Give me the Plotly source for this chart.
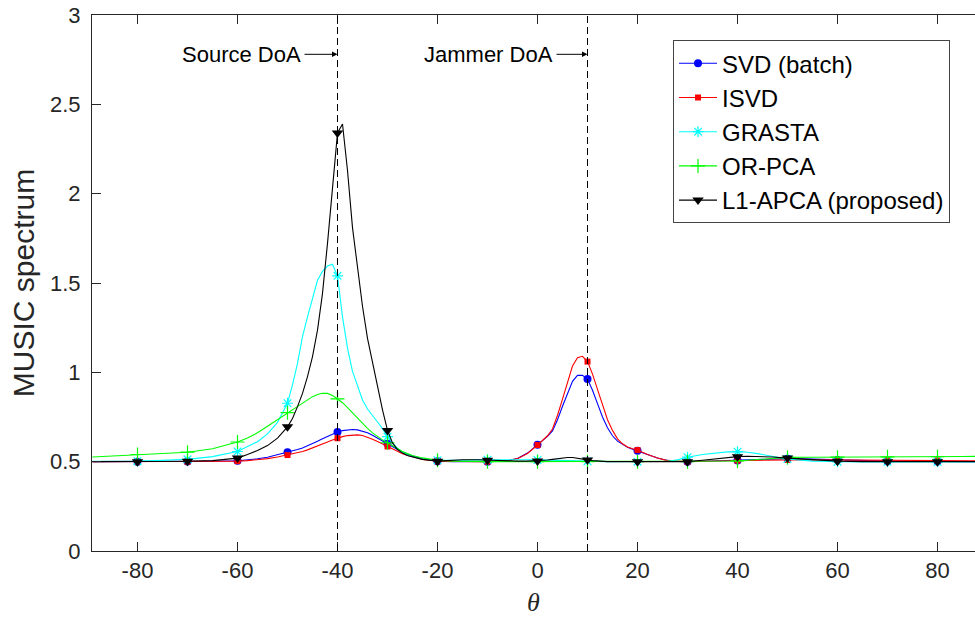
import plotly.graph_objects as go

# Angle grid (degrees); denser where the spectra peak
theta = [
    -89, -85, -80, -75, -70, -65, -60,
    -58, -56, -54, -52,
    -50, -49, -48, -47, -46, -45, -44, -43, -42, -41,
    -40, -39, -38, -37, -36, -35, -34, -33, -32, -31,
    -30, -29, -28, -27, -26, -25,
    -23, -20, -17, -15, -12, -10, -8, -6, -4, -2,
    0, 1, 2, 3, 4, 5, 6, 7, 8, 9,
    10, 11, 12, 13, 14, 15, 16, 17, 18, 19,
    20, 22, 24, 26, 28, 30,
    33, 36, 38, 40, 42, 44, 47, 50,
    55, 60, 65, 70, 75, 80, 85, 89,
]

svd_batch = [
    0.500, 0.500, 0.500, 0.500, 0.501, 0.502, 0.505,
    0.510, 0.516, 0.525, 0.538,
    0.553, 0.560, 0.568, 0.577, 0.588, 0.600, 0.614, 0.628, 0.641, 0.654,
    0.666, 0.674, 0.678, 0.680, 0.678, 0.672, 0.662, 0.648, 0.632, 0.617,
    0.600, 0.583, 0.567, 0.553, 0.541, 0.531,
    0.516, 0.503, 0.500, 0.500, 0.500, 0.500, 0.501, 0.505, 0.518, 0.548,
    0.595, 0.617, 0.642, 0.672, 0.735, 0.810, 0.885, 0.950, 0.983, 0.983,
    0.962, 0.900, 0.825, 0.750, 0.690, 0.645, 0.615, 0.595, 0.580, 0.570,
    0.561, 0.540, 0.520, 0.507, 0.502, 0.500,
    0.502, 0.505, 0.506, 0.507, 0.509, 0.511, 0.514, 0.517,
    0.515, 0.510, 0.506, 0.503, 0.502, 0.501, 0.500, 0.500,
]

isvd = [
    0.500, 0.500, 0.500, 0.500, 0.500, 0.501, 0.503,
    0.506, 0.511, 0.517, 0.526,
    0.537, 0.543, 0.550, 0.557, 0.566, 0.576, 0.587, 0.598, 0.610, 0.621,
    0.631, 0.640, 0.646, 0.650, 0.650, 0.646, 0.638, 0.626, 0.613, 0.599,
    0.585, 0.570, 0.556, 0.544, 0.534, 0.526,
    0.513, 0.502, 0.500, 0.500, 0.500, 0.500, 0.501, 0.505, 0.517, 0.546,
    0.593, 0.618, 0.645, 0.683, 0.760, 0.850, 0.950, 1.035, 1.082, 1.090,
    1.060, 0.990, 0.905, 0.815, 0.735, 0.675, 0.628, 0.600, 0.582, 0.572,
    0.565, 0.540, 0.520, 0.506, 0.502, 0.500,
    0.502, 0.504, 0.505, 0.506, 0.507, 0.508, 0.509, 0.510,
    0.510, 0.509, 0.508, 0.507, 0.506, 0.506, 0.505, 0.505,
]

grasta = [
    0.502, 0.502, 0.503, 0.507, 0.513, 0.528, 0.557,
    0.585, 0.612, 0.655, 0.720,
    0.827, 0.930, 1.050, 1.200, 1.310, 1.420, 1.515, 1.565, 1.595, 1.605,
    1.540, 1.310, 1.135, 1.005, 0.925, 0.845, 0.795, 0.755, 0.722, 0.685,
    0.640, 0.605, 0.575, 0.553, 0.537, 0.527,
    0.515, 0.508, 0.507, 0.508, 0.510, 0.511, 0.511, 0.511, 0.511, 0.511,
    0.510, 0.509, 0.508, 0.507, 0.506, 0.505, 0.504, 0.503, 0.503, 0.502,
    0.502, 0.501, 0.501, 0.500, 0.500, 0.500, 0.500, 0.500, 0.500, 0.500,
    0.500, 0.500, 0.500, 0.502, 0.510, 0.525,
    0.540, 0.550, 0.555, 0.556, 0.553, 0.545, 0.530, 0.515,
    0.503, 0.499, 0.499, 0.499, 0.499, 0.499, 0.499, 0.499,
]

or_pca = [
    0.526, 0.532, 0.540, 0.546, 0.553, 0.572, 0.610,
    0.632, 0.662, 0.698, 0.735,
    0.774, 0.792, 0.811, 0.830, 0.848, 0.864, 0.876, 0.883, 0.882, 0.870,
    0.851, 0.830, 0.803, 0.773, 0.743, 0.713, 0.686, 0.661, 0.640, 0.622,
    0.606, 0.589, 0.572, 0.557, 0.545, 0.535,
    0.521, 0.508, 0.503, 0.501, 0.500, 0.500, 0.500, 0.500, 0.500, 0.500,
    0.500, 0.500, 0.500, 0.500, 0.500, 0.500, 0.500, 0.500, 0.500, 0.500,
    0.500, 0.500, 0.500, 0.500, 0.500, 0.500, 0.500, 0.500, 0.500, 0.500,
    0.500, 0.500, 0.500, 0.500, 0.500, 0.500,
    0.500, 0.501, 0.502, 0.504, 0.508, 0.513, 0.520, 0.524,
    0.525, 0.525, 0.526, 0.527, 0.528, 0.528, 0.529, 0.530,
]

l1_apca = [
    0.500, 0.500, 0.500, 0.501, 0.502, 0.506, 0.520,
    0.540, 0.562, 0.590, 0.632,
    0.695, 0.742, 0.808, 0.882, 0.976, 1.088, 1.236, 1.442, 1.722, 2.045,
    2.340, 2.390, 2.130, 1.810, 1.580, 1.370, 1.190, 1.050, 0.910, 0.790,
    0.675, 0.605, 0.568, 0.548, 0.535, 0.527,
    0.513, 0.503, 0.508, 0.511, 0.511, 0.508, 0.505, 0.503, 0.503, 0.503,
    0.504, 0.506, 0.509, 0.513, 0.517, 0.521, 0.523, 0.523, 0.520, 0.515,
    0.510, 0.506, 0.503, 0.501, 0.500, 0.500, 0.500, 0.500, 0.500, 0.500,
    0.500, 0.500, 0.500, 0.500, 0.500, 0.500,
    0.508, 0.517, 0.523, 0.528, 0.530, 0.530, 0.526, 0.520,
    0.510, 0.503, 0.500, 0.500, 0.500, 0.500, 0.500, 0.500,
]

series_names = ["SVD (batch)", "ISVD", "GRASTA", "OR-PCA", "L1-APCA (proposed)"]
series_values = [svd_batch, isvd, grasta, or_pca, l1_apca]

x_tick_vals = [-80, -60, -40, -20, 0, 20, 40, 60, 80]
x_tick_text = ["-80", "-60", "-40", "-20", "0", "20", "40", "60", "80"]

source_doa = -40
jammer_doa = 10

styles = [
    dict(color="#0000ff", symbol="circle", size=8, lw=0),
    dict(color="#ff0000", symbol="square", size=6, lw=0),
    dict(color="#00ffff", symbol="asterisk-open", size=9, lw=1.2),
    dict(color="#00ff00", symbol="cross-thin-open", size=10, lw=1.2),
    dict(color="#000000", symbol="triangle-down", size=10, lw=0),
]

FONT = "Liberation Sans, Arial, Helvetica, sans-serif"

fig = go.Figure()

for name, vals, st in zip(series_names, series_values, styles):
    marker = dict(color=st["color"], symbol=st["symbol"], size=st["size"],
                  line=dict(color=st["color"], width=st["lw"]))
    # continuous spectrum
    fig.add_trace(go.Scatter(x=theta, y=vals, mode="lines", legendgroup=name,
                             showlegend=False, hoverinfo="skip",
                             line=dict(color=st["color"], width=1.1)))
    # markers every 10 degrees
    mx = [t for t in theta if t % 10 == 0 and -80 <= t <= 80]
    my = [v for t, v in zip(theta, vals) if t % 10 == 0 and -80 <= t <= 80]
    fig.add_trace(go.Scatter(x=mx, y=my, mode="markers", legendgroup=name,
                             showlegend=False, marker=marker))
    # legend entry
    fig.add_trace(go.Scatter(x=[None], y=[None], mode="lines+markers", name=name,
                             legendgroup=name, marker=marker,
                             line=dict(color=st["color"], width=1.1)))

# dashed DoA markers
for xd in (source_doa, jammer_doa):
    fig.add_shape(type="line", x0=xd, x1=xd, y0=0, y1=3, xref="x", yref="y",
                  line=dict(color="#000000", width=1, dash="7px,4px"), layer="above")

arrow_y = 2.78
for label, head, tail in (("Source DoA", source_doa, -46.9), ("Jammer DoA", jammer_doa, 3.5)):
    fig.add_annotation(x=head, y=arrow_y, ax=tail, ay=arrow_y, axref="x", ayref="y",
                       xref="x", yref="y", text="", showarrow=True,
                       arrowhead=2, arrowsize=1.1, arrowwidth=1, arrowcolor="#000000")
    fig.add_annotation(x=tail, y=arrow_y, xref="x", yref="y", text=label,
                       showarrow=False, xanchor="right", yanchor="middle",
                       font=dict(family=FONT, size=22, color="#000000"))

fig.update_layout(
    width=975, height=628,
    margin=dict(l=92, r=0, t=15, b=77),
    paper_bgcolor="white", plot_bgcolor="white",
    font=dict(family=FONT, color="#262626"),
    legend=dict(
        x=0.658, y=0.953, xanchor="left", yanchor="top",
        bgcolor="white", bordercolor="#444444", borderwidth=1,
        font=dict(family=FONT, size=24, color="#000000"),
        traceorder="grouped", tracegroupgap=0,
        itemwidth=38,
    ),
)

fig.update_xaxes(
    range=[-89.1, 87.5], tickvals=x_tick_vals, ticktext=x_tick_text,
    showline=True, linecolor="#262626", linewidth=1, mirror="ticks",
    ticks="inside", ticklen=9, tickcolor="#262626", tickwidth=1,
    showgrid=False, zeroline=False,
    tickfont=dict(family=FONT, size=22, color="#262626"),
    title=dict(text="<i>θ</i>", font=dict(family="Liberation Serif, serif", size=26, color="#262626"),
               standoff=10),
)
fig.update_yaxes(
    range=[0, 3], dtick=0.5,
    showline=True, linecolor="#262626", linewidth=1, mirror=False,
    ticks="inside", ticklen=9, tickcolor="#262626", tickwidth=1,
    ticklabelstandoff=6,
    showgrid=False, zeroline=False,
    tickfont=dict(family=FONT, size=22, color="#262626"),
    title=dict(text="MUSIC spectrum", font=dict(family=FONT, size=30, color="#262626"),
               standoff=6),
)

fig.write_html("out.html")
